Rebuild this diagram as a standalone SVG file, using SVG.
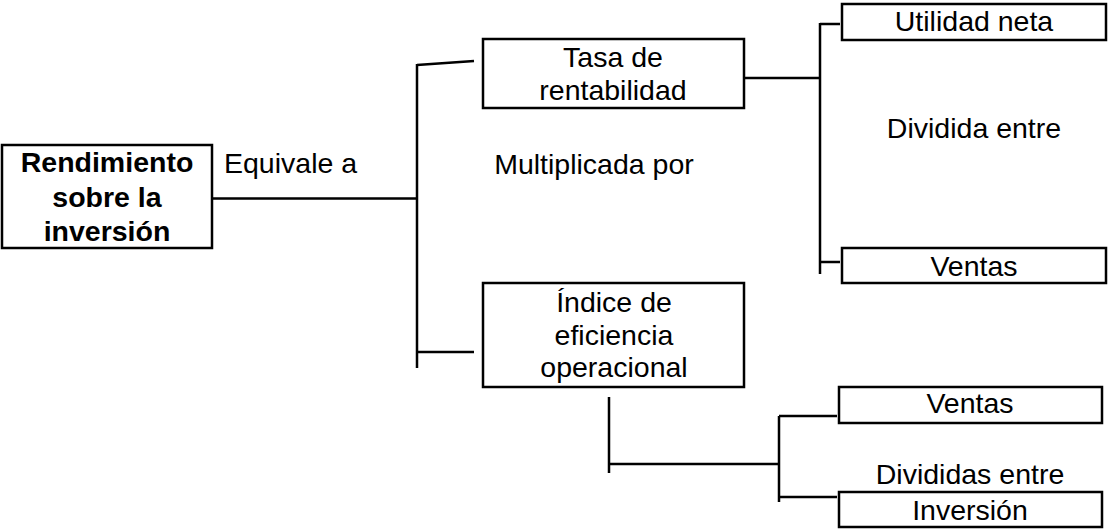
<svg xmlns="http://www.w3.org/2000/svg" width="1108" height="529" viewBox="0 0 1108 529">
<style>
.box{fill:#fff;stroke:#000;stroke-width:2.5}
.ln{fill:none;stroke:#000;stroke-width:2.5}
text{font-family:"Liberation Sans",Arial,sans-serif;font-size:28.5px;fill:#000;text-anchor:middle}
.b{font-weight:bold}
.l{text-anchor:start}
</style>
<rect width="1108" height="529" fill="#fff"/>
<g id="connectors">
<path class="ln" d="M206 198.5H417M417 64V368M417 65L474 61M417 352H474"/>
<path class="ln" d="M744 78H820M820 23V274M820 24H840M820 262H840"/>
<path class="ln" d="M609 397V473M609 464H779M779 416V502M779 416H837M779 497H837"/>
</g>
<g id="labels">
<text class="l" x="224" y="173">Equivale a</text>
<text x="594" y="174">Multiplicada por</text>
<text x="974" y="138">Dividida entre</text>
<text x="970" y="484">Divididas entre</text>
</g>
<g id="n-rendimiento">
<rect class="box" x="2" y="145" width="210" height="103"/>
<text class="b" x="107" y="172">Rendimiento</text>
<text class="b" x="107" y="207">sobre la</text>
<text class="b" x="107" y="241">inversión</text>
</g>
<g id="n-tasa">
<rect class="box" x="483" y="39" width="261" height="69"/>
<text x="613" y="67">Tasa de</text>
<text x="613" y="100">rentabilidad</text>
</g>
<g id="n-indice">
<rect class="box" x="483" y="283" width="261" height="104"/>
<text x="614" y="312">Índice de</text>
<text x="614" y="345">eficiencia</text>
<text x="614" y="377">operacional</text>
</g>
<g id="n-utilidad">
<rect class="box" x="842" y="4" width="264" height="36"/>
<text x="974" y="31">Utilidad neta</text>
</g>
<g id="n-ventas1">
<rect class="box" x="842" y="248" width="264" height="35"/>
<text x="974" y="276">Ventas</text>
</g>
<g id="n-ventas2">
<rect class="box" x="839" y="387" width="263" height="36"/>
<text x="970" y="413">Ventas</text>
</g>
<g id="n-inversion">
<rect class="box" x="839" y="492" width="263" height="35"/>
<text x="970" y="520">Inversión</text>
</g>
</svg>
